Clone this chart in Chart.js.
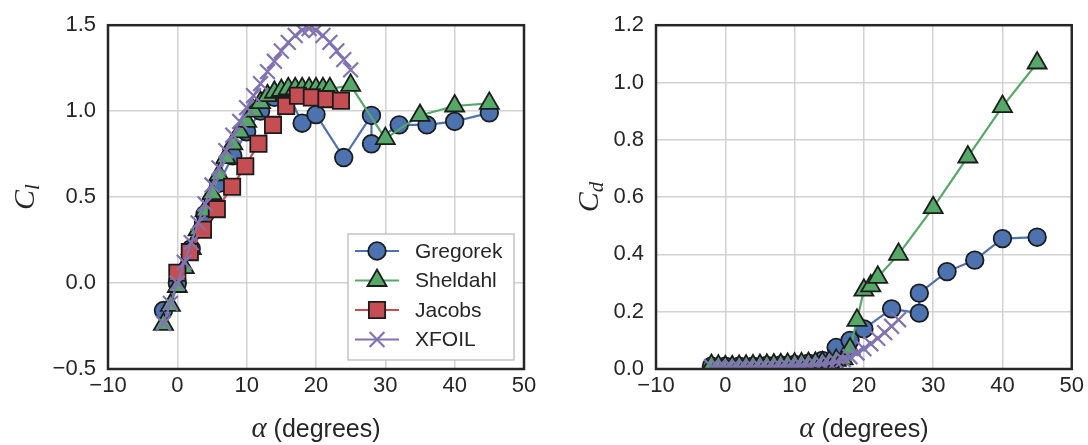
<!DOCTYPE html>
<html>
<head>
<meta charset="utf-8">
<script src="https://cdn.jsdelivr.net/npm/chart.js@4.4.1/dist/chart.umd.min.js"></script>
<style>
  html, body { margin: 0; padding: 0; background: #fff; }
  #wrap { position: relative; width: 1088px; height: 445px; }
  .panel { position: absolute; top: 0; width: 544px; height: 445px; }
</style>
</head>
<body>
<div id="wrap">
  <div class="panel" style="left:0"><canvas id="clChart" width="544" height="445"></canvas></div>
  <div class="panel" style="left:544px"><canvas id="cdChart" width="544" height="445"></canvas></div>
</div>
<script>
// Gregorek (circulos)
const gregorekAlpha = [-2, 0, 2, 4, 6, 8, 10, 12, 14, 16, 18, 20, 24, 28, 28, 32, 36, 40, 45]
const gregorekCl = [-0.16, 0.0, 0.2, 0.4, 0.58, 0.74, 0.88, 1.0, 1.08, 1.1, 0.93, 0.98, 0.73, 0.975, 0.81, 0.92, 0.92, 0.94, 0.99]
const gregorekCd = [0.01, 0.01, 0.01, 0.01, 0.012, 0.014, 0.016, 0.02, 0.03, 0.075, 0.10, 0.14, 0.21, 0.195, 0.265, 0.34, 0.38, 0.455, 0.46]

// Sheldahl (triangulos)
const sheldahlAlpha = [-2, -1, 0, 1, 2, 3, 4, 5, 6, 7, 8, 9, 10, 11, 12, 13, 14, 15, 16, 17, 18, 19, 20, 21, 22, 25, 30, 35, 40, 45]
const sheldahlCl = [-0.24, -0.13, -0.02, 0.09, 0.2, 0.31, 0.42, 0.52, 0.63, 0.73, 0.81, 0.88, 0.94, 1.0, 1.05, 1.09, 1.11, 1.12, 1.13, 1.13, 1.13, 1.13, 1.13, 1.13, 1.13, 1.15, 0.84, 0.975, 1.03, 1.045]
const sheldahlCd = [0.012, 0.01, 0.008, 0.008, 0.009, 0.01, 0.011, 0.012, 0.013, 0.014, 0.015, 0.016, 0.017, 0.018, 0.019, 0.02, 0.022, 0.025, 0.03, 0.035, 0.07, 0.17, 0.275, 0.29, 0.32, 0.40, 0.563, 0.74, 0.916, 1.068]

// Jacobs (cuadrados), solo Cl
const jacobsAlpha = [0, 1.8, 3.7, 5.7, 7.9, 9.8, 11.7, 13.8, 15.7, 17.4, 19.4, 21.5, 23.6]
const jacobsCl = [0.06, 0.18, 0.31, 0.43, 0.56, 0.68, 0.81, 0.92, 1.03, 1.09, 1.08, 1.07, 1.06]

// XFOIL (cruces)
const xfoilAlpha = [-2, -1, 0, 1, 2, 3, 4, 5, 6, 7, 8, 9, 10, 11, 12, 13, 14, 15, 16, 17, 18, 19, 20, 21, 22, 23, 24, 25]
const xfoilCl = [-0.235, -0.118, 0.0, 0.12, 0.235, 0.35, 0.46, 0.57, 0.67, 0.77, 0.86, 0.94, 1.02, 1.09, 1.16, 1.23, 1.29, 1.35, 1.40, 1.44, 1.47, 1.48, 1.47, 1.44, 1.40, 1.35, 1.30, 1.24]
const xfoilCd = [0.008, 0.007, 0.006, 0.006, 0.006, 0.007, 0.007, 0.008, 0.008, 0.009, 0.01, 0.011, 0.012, 0.013, 0.014, 0.016, 0.018, 0.021, 0.026, 0.033, 0.043, 0.056, 0.071, 0.088, 0.107, 0.127, 0.149, 0.172]

// ticks de los ejes
const alphaTicks = [-10, 0, 10, 20, 30, 40, 50]
const clTicks = [-0.5, 0.0, 0.5, 1.0, 1.5]
const cdTicks = [0.0, 0.2, 0.4, 0.6, 0.8, 1.0, 1.2]

const TEXT = "#262626"
const EDGE = "#1c1c1c"
const SANS = '"Liberation Sans", Arial, sans-serif'
const SERIF = '"Liberation Serif", "Times New Roman", serif'

const pts = (xs, ys) => xs.map((x, i) => ({ x, y: ys[i] }))
const minus = (s) => s.replace("-", "\u2212")

function serie(label, xs, ys, color, style, radius, order) {
    const cross = style === "crossRot"
    return {
        label,
        data: pts(xs, ys),
        showLine: true,
        borderColor: color,
        borderWidth: 2.2,
        backgroundColor: color,
        pointStyle: style,
        pointRadius: radius,
        pointHoverRadius: radius,
        pointBackgroundColor: color,
        pointBorderColor: cross ? color : EDGE,
        pointBorderWidth: cross ? 2.2 : 1.8,
        tension: 0,
        clip: 0,
        order,
    }
}

// marco negro alrededor del area de datos
const marco = {
    id: "marco",
    afterDatasetsDraw(chart) {
        const { ctx, chartArea: a } = chart
        ctx.save()
        ctx.strokeStyle = "#262626"
        ctx.lineWidth = 2.5
        ctx.strokeRect(a.left, a.top, a.right - a.left, a.bottom - a.top)
        ctx.restore()
    }
}

// titulos de ejes: C con subindice y alpha (degrees)
const titulos = {
    id: "titulos",
    afterDraw(chart, args, opts) {
        const { ctx, chartArea: a } = chart
        ctx.save()
        ctx.fillStyle = TEXT

        // eje x
        const fAlpha = "italic 29px " + SERIF
        const fResto = "25px " + SANS
        ctx.font = fAlpha
        const wA = ctx.measureText("\u03b1").width
        ctx.font = fResto
        const wR = ctx.measureText(" (degrees)").width
        let x0 = (a.left + a.right) / 2 - (wA + wR) / 2
        ctx.textBaseline = "alphabetic"
        ctx.textAlign = "left"
        ctx.font = fAlpha
        ctx.fillText("\u03b1", x0, 437)
        ctx.font = fResto
        ctx.fillText(" (degrees)", x0 + wA, 437)

        // eje y (rotado)
        ctx.translate(opts.yTitleX, (a.top + a.bottom) / 2)
        ctx.rotate(-Math.PI / 2)
        const fC = "italic 30px " + SERIF
        const fSub = "italic 21px " + SERIF
        ctx.font = fC
        const wC = ctx.measureText("C").width
        ctx.font = fSub
        const wS = ctx.measureText(opts.sub).width
        const s0 = -(wC + wS) / 2
        ctx.font = fC
        ctx.fillText("C", s0, 10)
        ctx.font = fSub
        ctx.fillText(opts.sub, s0 + wC, 15)
        ctx.restore()
    }
}

// leyenda dentro del grafico, esquina inferior derecha
const leyenda = {
    id: "leyenda",
    afterDraw(chart, args, opts) {
        if (!opts.show) return
        const { ctx, chartArea: a } = chart
        const w = 166, h = 126
        const left = a.right - 10 - w
        const top = a.bottom - 9 - h
        ctx.save()
        ctx.fillStyle = "#ffffff"
        ctx.fillRect(left, top, w, h)
        ctx.strokeStyle = "#b5b5b5"
        ctx.lineWidth = 1.2
        ctx.strokeRect(left, top, w, h)
        chart.data.datasets.forEach((ds, i) => {
            const y = top + 17 + i * 29.5
            ctx.strokeStyle = ds.borderColor
            ctx.lineWidth = ds.borderWidth
            ctx.beginPath()
            ctx.moveTo(left + 7, y)
            ctx.lineTo(left + 51, y)
            ctx.stroke()
            ctx.fillStyle = ds.pointBackgroundColor
            ctx.strokeStyle = ds.pointBorderColor
            ctx.lineWidth = ds.pointBorderWidth
            Chart.helpers.drawPoint(ctx, {
                pointStyle: ds.pointStyle,
                radius: ds.pointRadius,
                borderWidth: ds.pointBorderWidth,
                rotation: 0
            }, left + 29, y)
            ctx.fillStyle = TEXT
            ctx.font = "21px " + SANS
            ctx.textBaseline = "middle"
            ctx.textAlign = "left"
            ctx.fillText(ds.label, left + 67, y + 1)
        })
        ctx.restore()
    }
}

function config(datasets, yTicks, yMin, yMax, yDecimals, yWidth, padRight, sub, yTitleX, showLegend) {
    return {
        type: "scatter",
        data: { datasets },
        plugins: [marco, titulos, leyenda],
        options: {
            responsive: false,
            animation: false,
            devicePixelRatio: 1,
            layout: { padding: { left: 0, right: padRight, top: 22, bottom: 0 } },
            plugins: {
                legend: { display: false },
                tooltip: { enabled: false },
                titulos: { sub, yTitleX },
                leyenda: { show: showLegend }
            },
            scales: {
                x: {
                    type: "linear",
                    min: -10,
                    max: 50,
                    afterBuildTicks: (s) => { s.ticks = alphaTicks.map(v => ({ value: v })) },
                    afterFit: (s) => { s.height = 76 },
                    grid: { color: "#d2d2d2", lineWidth: 1.5, drawTicks: false },
                    border: { display: false },
                    ticks: {
                        padding: 4,
                        color: TEXT,
                        font: { family: SANS, size: 22 },
                        callback: (v) => minus(String(v))
                    }
                },
                y: {
                    type: "linear",
                    min: yMin,
                    max: yMax,
                    afterBuildTicks: (s) => { s.ticks = yTicks.map(v => ({ value: v })) },
                    afterFit: (s) => { s.width = yWidth },
                    grid: { color: "#d2d2d2", lineWidth: 1.5, drawTicks: false },
                    border: { display: false },
                    ticks: {
                        padding: 12,
                        color: TEXT,
                        font: { family: SANS, size: 22 },
                        callback: (v) => minus(Number(v).toFixed(yDecimals))
                    }
                }
            }
        }
    }
}

const BLUE = "#4C72B0", GREEN = "#55A868", RED = "#C44E52", PURPLE = "#8172B2"

// Grafico de sustentacion
new Chart(document.getElementById("clChart"), config([
    serie("Gregorek", gregorekAlpha, gregorekCl, BLUE, "circle", 8.8, 4),
    serie("Sheldahl", sheldahlAlpha, sheldahlCl, GREEN, "triangle", 11, 3),
    serie("Jacobs", jacobsAlpha, jacobsCl, RED, "rect", 11.5, 2),
    serie("XFOIL", xfoilAlpha, xfoilCl, PURPLE, "crossRot", 10.5, 1),
], clTicks, -0.5, 1.5, 1, 108, 20, "l", 24, true))

// Grafico de arrastre
new Chart(document.getElementById("cdChart"), config([
    serie("Gregorek", gregorekAlpha, gregorekCd, BLUE, "circle", 8.8, 4),
    serie("Sheldahl", sheldahlAlpha, sheldahlCd, GREEN, "triangle", 11, 3),
    serie("XFOIL", xfoilAlpha, xfoilCd, PURPLE, "crossRot", 10.5, 1),
], cdTicks, 0, 1.2, 1, 112, 16, "d", 44, false))
</script>
</body>
</html>
